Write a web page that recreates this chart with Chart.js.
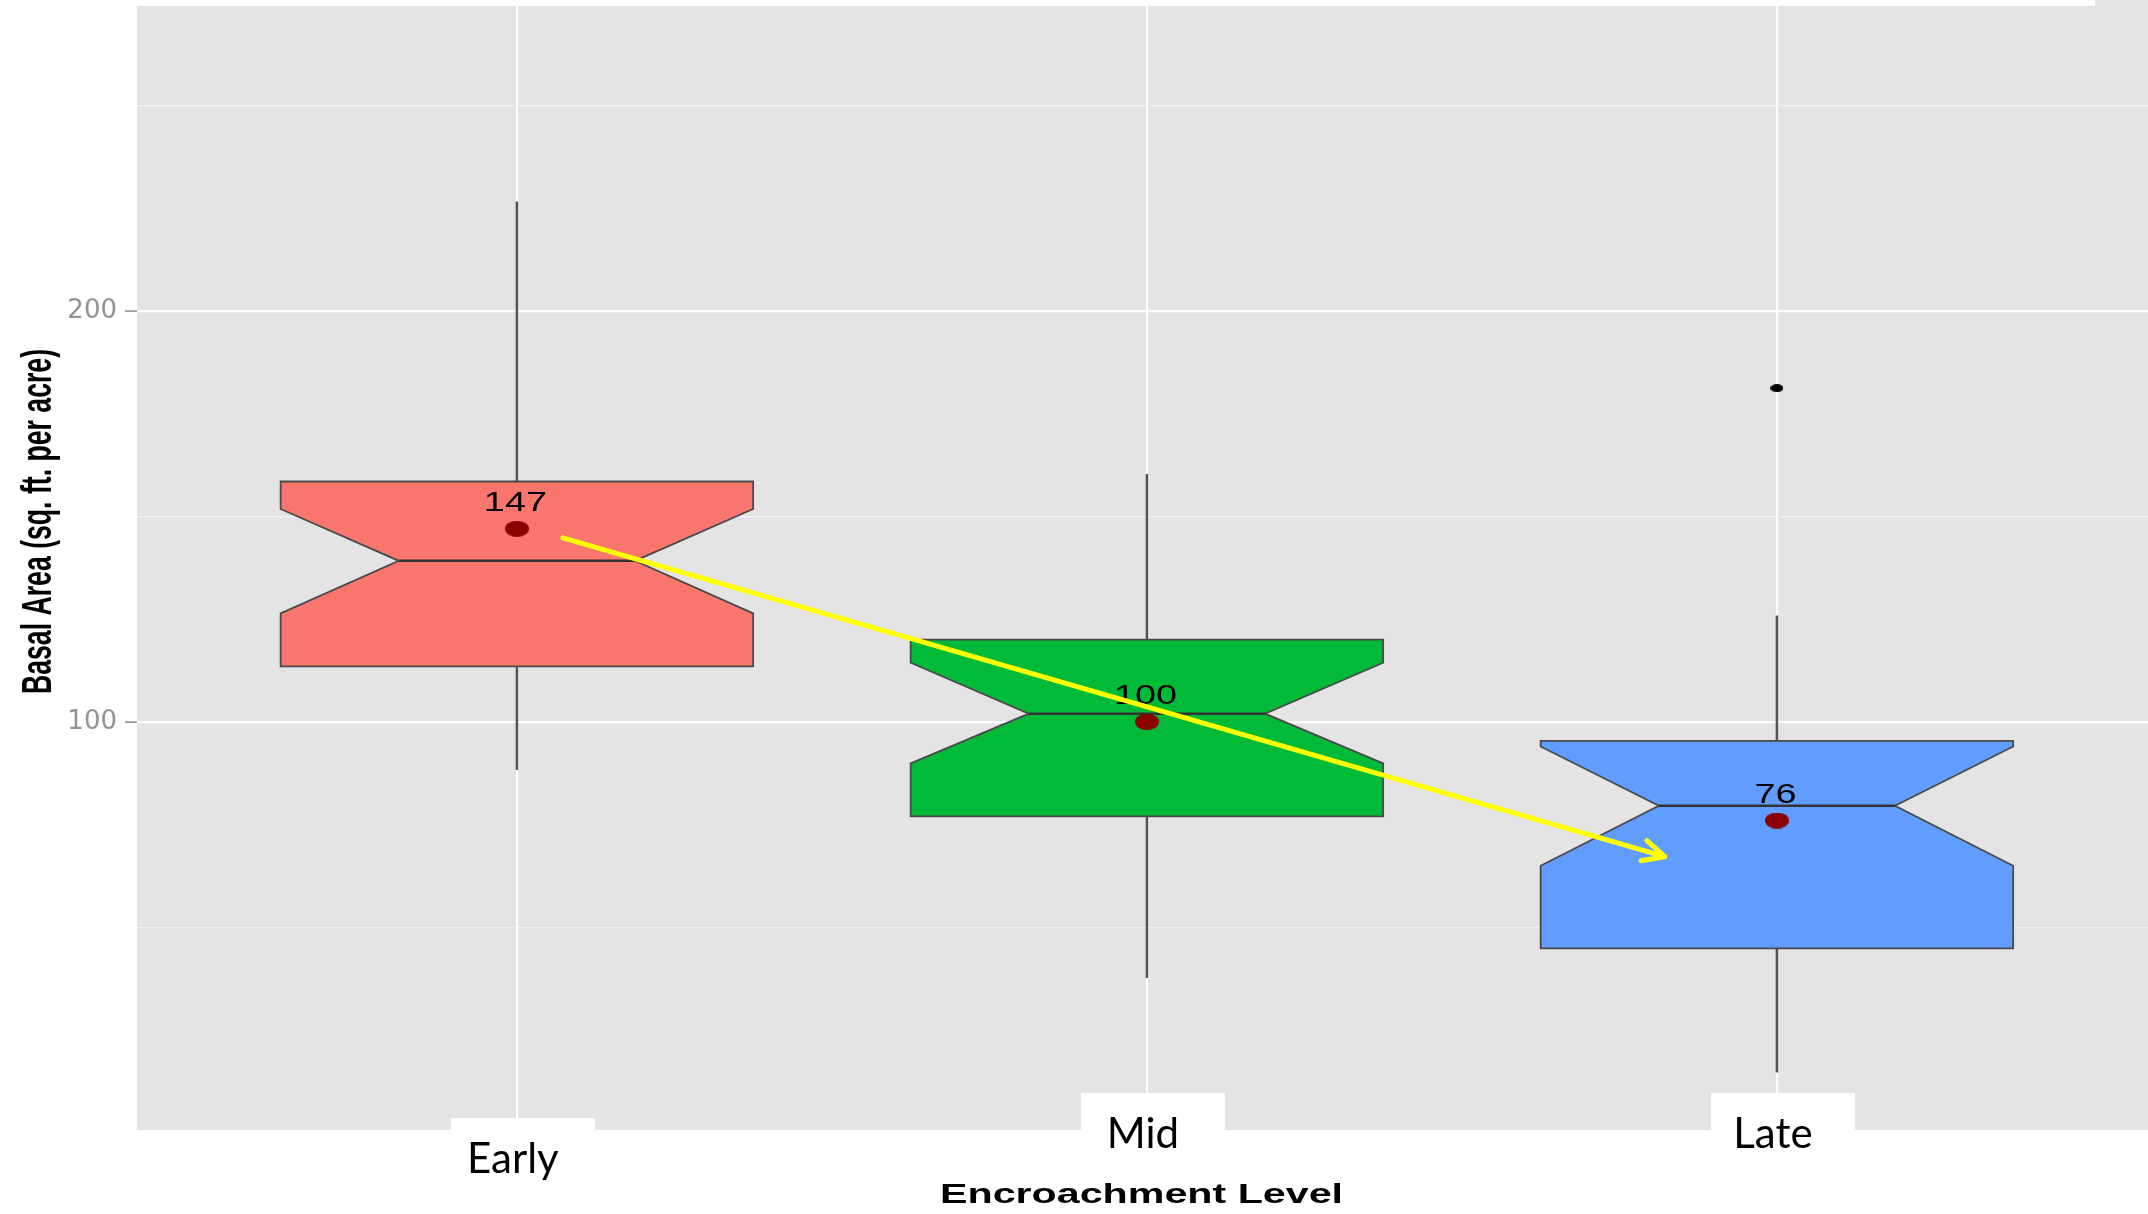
<!DOCTYPE html>
<html>
<head>
<meta charset="utf-8">
<title>Basal Area by Encroachment Level</title>
<script src="https://cdn.jsdelivr.net/npm/chart.js@4/dist/chart.umd.min.js"></script>
<style>
  html, body { margin: 0; padding: 0; background: #ffffff; }
  #wrap { position: relative; width: 2148px; height: 1214px; }
</style>
</head>
<body>
<div id="wrap"><canvas id="chart"></canvas></div>
<script>
// ---- data ----
const categories  = ['Early', 'Mid', 'Late'];
const whiskerLo   = [88.3, 37.7, 14.7];
const q1          = [113.5, 77.0, 44.9];
const notchLo     = [126.4, 89.9, 65.0];
const median      = [139.2, 102.0, 79.6];
const notchHi     = [151.8, 114.4, 94.0];
const q3          = [158.5, 120.0, 95.4];
const whiskerHi   = [226.6, 160.3, 125.9];
const means       = [147, 100, 76];
const outlierCat  = [2];
const outlierVal  = [181.2];
const yTickValues = [50, 100, 150, 200, 250];
const yTickLabels = { 100: '100', 200: '200' };
// trend arrow, in category / value units: start, end
const trendArrowX = [0.073, 1.822];
const trendArrowY = [144.8, 67.2];

// ---- styles ----
const boxFills   = ['#F8766D', '#00BA38', '#619CFF'];
const boxWidth   = 0.75;
const notchRatio = 0.5;
const panelGrey  = '#E4E4E4';

function ellipseSprite(w, h, color) {
  const c = document.createElement('canvas');
  c.width = w; c.height = h;
  const g = c.getContext('2d');
  g.fillStyle = color;
  g.beginPath();
  g.ellipse(w / 2, h / 2, w / 2, h / 2, 0, 0, Math.PI * 2);
  g.fill();
  return c;
}

const panelBackground = {
  id: 'panelBackground',
  beforeDraw(chart) {
    const { ctx, chartArea: a } = chart;
    ctx.save();
    ctx.fillStyle = panelGrey;
    ctx.fillRect(a.left, a.top, a.right - a.left, a.bottom - a.top);
    ctx.fillRect(2095, 0, chart.width - 2095, a.top);
    ctx.restore();
  }
};

const notchedBoxes = {
  id: 'notchedBoxes',
  beforeDatasetsDraw(chart) {
    const { ctx, scales: { x, y } } = chart;
    ctx.save();
    categories.forEach((c, i) => {
      const cx = x.getPixelForValue(i);
      const half = (x.getPixelForValue(i + boxWidth / 2) - x.getPixelForValue(i - boxWidth / 2)) / 2;
      const nh = half * notchRatio;
      const yQ1 = y.getPixelForValue(q1[i]);
      const yQ3 = y.getPixelForValue(q3[i]);
      const yMed = y.getPixelForValue(median[i]);
      const yNL = y.getPixelForValue(notchLo[i]);
      const yNH = y.getPixelForValue(notchHi[i]);

      // whiskers
      ctx.strokeStyle = '#555555';
      ctx.lineWidth = 2.5;
      ctx.beginPath();
      ctx.moveTo(cx, y.getPixelForValue(whiskerHi[i]));
      ctx.lineTo(cx, yQ3);
      ctx.moveTo(cx, yQ1);
      ctx.lineTo(cx, y.getPixelForValue(whiskerLo[i]));
      ctx.stroke();

      // notched box
      ctx.beginPath();
      ctx.moveTo(cx - half, yQ3);
      ctx.lineTo(cx + half, yQ3);
      ctx.lineTo(cx + half, yNH);
      ctx.lineTo(cx + nh, yMed);
      ctx.lineTo(cx + half, yNL);
      ctx.lineTo(cx + half, yQ1);
      ctx.lineTo(cx - half, yQ1);
      ctx.lineTo(cx - half, yNL);
      ctx.lineTo(cx - nh, yMed);
      ctx.lineTo(cx - half, yNH);
      ctx.closePath();
      ctx.fillStyle = boxFills[i];
      ctx.fill();
      ctx.strokeStyle = '#4A4A4A';
      ctx.lineWidth = 1.8;
      ctx.stroke();

      // median
      ctx.strokeStyle = '#333333';
      ctx.lineWidth = 2.6;
      ctx.beginPath();
      ctx.moveTo(cx - nh, yMed);
      ctx.lineTo(cx + nh, yMed);
      ctx.stroke();
    });
    ctx.restore();
  }
};

const overlays = {
  id: 'overlays',
  afterDatasetsDraw(chart) {
    const { ctx, scales: { x, y } } = chart;
    ctx.save();

    // mean value labels
    ctx.fillStyle = '#000000';
    ctx.font = '27px "Liberation Sans", Arial, sans-serif';
    ctx.textAlign = 'center';
    ctx.textBaseline = 'alphabetic';
    means.forEach((m, i) => {
      const px = x.getPixelForValue(i) - 1.5;
      const py = y.getPixelForValue(m) - 18;
      ctx.save();
      ctx.translate(px, py);
      ctx.scale(1.4, 1);
      ctx.fillText(String(m), 0, 0);
      ctx.restore();
    });

    // trend arrow
    const x0 = x.getPixelForValue(trendArrowX[0]), y0 = y.getPixelForValue(trendArrowY[0]);
    const x1 = x.getPixelForValue(trendArrowX[1]), y1 = y.getPixelForValue(trendArrowY[1]);
    const ang = Math.atan2(y1 - y0, x1 - x0);
    const arm = 24, spread = 0.45;
    ctx.strokeStyle = '#FFFF00';
    ctx.lineWidth = 5;
    ctx.lineCap = 'round';
    ctx.lineJoin = 'round';
    ctx.beginPath();
    ctx.moveTo(x0, y0);
    ctx.lineTo(x1, y1);
    ctx.moveTo(x1 - arm * Math.cos(ang - spread), y1 - arm * Math.sin(ang - spread));
    ctx.lineTo(x1, y1);
    ctx.lineTo(x1 - arm * Math.cos(ang + spread), y1 - arm * Math.sin(ang + spread));
    ctx.stroke();
    ctx.restore();
  },
  afterDraw(chart) {
    const { ctx, chartArea: a, scales: { x } } = chart;
    ctx.save();

    // category labels on white tabs
    const tabTop = [a.bottom - 12, a.bottom - 37, a.bottom - 37];
    const baseline = [a.bottom + 43, a.bottom + 18, a.bottom + 18];
    ctx.font = '42px Lato, "Noto Sans", sans-serif';
    ctx.textAlign = 'center';
    ctx.textBaseline = 'alphabetic';
    categories.forEach((c, i) => {
      const cx = x.getPixelForValue(i);
      ctx.fillStyle = '#ffffff';
      ctx.fillRect(cx + 6 - 72, tabTop[i], 144, a.bottom - tabTop[i] + 70);
      ctx.fillStyle = '#000000';
      ctx.fillText(c, cx - 4, baseline[i]);
    });

    // axis titles
    ctx.fillStyle = '#000000';
    ctx.font = 'bold 28px "Liberation Sans", Arial, sans-serif';
    const xt = 'Encroachment Level';
    const xw = ctx.measureText(xt).width;
    ctx.save();
    ctx.translate(1141.5, 1203);
    ctx.scale(403 / xw, 1);
    ctx.fillText(xt, 0, 0);
    ctx.restore();

    ctx.font = 'bold 43px "Liberation Sans", Arial, sans-serif';
    const yt = 'Basal Area (sq. ft. per acre)';
    const yw = ctx.measureText(yt).width;
    ctx.save();
    ctx.translate(51, 521.5);
    ctx.rotate(-Math.PI / 2);
    ctx.scale(345 / yw, 1);
    ctx.fillText(yt, 0, 0);
    ctx.restore();

    ctx.restore();
  }
};

const ctxEl = document.getElementById('chart');
new Chart(ctxEl, {
  type: 'scatter',
  data: {
    datasets: [
      {
        label: 'Mean',
        data: means.map((m, i) => ({ x: i, y: m })),
        pointStyle: ellipseSprite(24, 16, '#8B0000'),
        pointRadius: 12,
        pointHoverRadius: 12
      },
      {
        label: 'Outlier',
        data: outlierCat.map((c, i) => ({ x: c, y: outlierVal[i] })),
        pointStyle: ellipseSprite(13, 8, '#000000'),
        pointRadius: 7,
        pointHoverRadius: 7
      }
    ]
  },
  options: {
    responsive: true,
    maintainAspectRatio: false,
    animation: false,
    devicePixelRatio: 1,
    layout: { autoPadding: false, padding: { top: 6, left: 0, right: 0, bottom: 0 } },
    plugins: { legend: { display: false }, tooltip: { enabled: false } },
    scales: {
      x: {
        type: 'linear',
        min: -0.603,
        max: 2.589,
        afterBuildTicks(scale) { scale.ticks = categories.map((c, i) => ({ value: i })); },
        afterFit(scale) {
          scale.height = 84;
          scale.paddingLeft = 0; scale.paddingRight = 0;
          scale.paddingTop = 0; scale.paddingBottom = 0;
        },
        ticks: { display: false },
        border: { display: false },
        grid: { color: '#FFFFFF', lineWidth: 2.2, drawTicks: false }
      },
      y: {
        type: 'linear',
        min: 0.7,
        max: 274.2,
        afterBuildTicks(scale) { scale.ticks = yTickValues.map(v => ({ value: v })); },
        afterFit(scale) {
          scale.width = 137;
          scale.paddingLeft = 0; scale.paddingRight = 0;
          scale.paddingTop = 0; scale.paddingBottom = 0;
        },
        border: { display: false },
        ticks: {
          padding: 8,
          color: '#939393',
          font: { family: '"DejaVu Sans", sans-serif', size: 26 },
          callback: (v) => yTickLabels[v] || ''
        },
        grid: {
          tickLength: 12,
          color: (c) => (yTickLabels[c.tick.value] ? '#FFFFFF' : '#F2F2F2'),
          lineWidth: (c) => (yTickLabels[c.tick.value] ? 2.2 : 1.3),
          tickColor: (c) => (yTickLabels[c.tick.value] ? '#8C8C8C' : 'rgba(0,0,0,0)'),
          tickWidth: 1.5
        }
      }
    }
  },
  plugins: [panelBackground, notchedBoxes, overlays]
});
</script>
</body>
</html>
